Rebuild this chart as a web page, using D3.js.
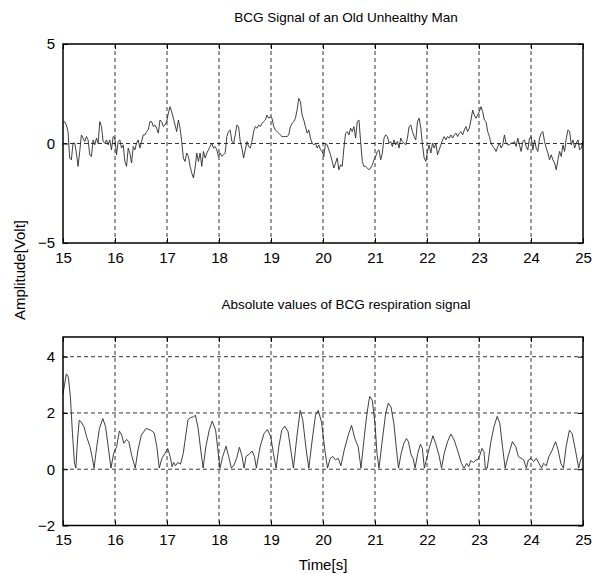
<!DOCTYPE html>
<html>
<head>
<meta charset="utf-8">
<script src="https://cdn.jsdelivr.net/npm/d3@7"></script>
<style>
  body { margin: 0; background: #fff; }
  svg { font-family: "Liberation Sans", Arial, sans-serif; }
</style>
</head>
<body>
<svg width="592" height="574"></svg>
<script>
// raw BCG signal, 15 s .. 25 s, evenly sampled
var bcgValues = [
  1.02, 1.1, 0.93, 0.6, -0.73, -0.82, 0.02, 0.02, -0.48, -1.15, -0.4, 0.43, 0.27, 0.1, 0.35, 0.18,
  -0.57, -0.65, 0.18, -0.07, 0.27, 0.02, 1.1, 0.85, 0.1, 0.02, 0.18, -0.07, 0.18, -0.32, 0.35, 0.27,
  -0.57, 0.1, 0.18, -0.23, -0.07, -0.9, -1.15, -0.23, -0.48, -0.98, -0.15, -0.32, 0.02, 0.18, -0.23, 0.1,
  0.43, 0.43, 0.6, 0.68, 1.1, 1.1, 0.85, 0.93, 0.77, 0.52, 1.18, 1.1, 0.85, 0.93, 1.1, 1.52,
  1.85, 1.6, 1.27, 0.93, 0.6, 1.18, 0.77, 0.1, -0.73, -0.9, -0.48, -0.65, -1.15, -1.48, -1.73, -1.23,
  -0.48, -0.9, -0.48, -1.15, -0.4, -0.73, -0.48, -0.32, -0.15, 0.02, -0.23, -0.15, -0.32, -0.65, -0.48, -0.65,
  -0.57, -0.48, 0.35, 0.6, 0.68, 0.1, 0.02, 0.43, 0.93, 0.85, 0.1, -0.23, -0.73, -0.32, 0.1, -0.15,
  -0.23, 0.1, 0.6, 0.85, 0.77, 0.93, 0.85, 1.02, 1.1, 1.18, 1.43, 1.27, 1.35, 1.27, 0.85, 0.68,
  0.6, 0.52, 0.43, 0.35, 0.35, 0.35, 0.35, 0.43, 0.85, 1.02, 1.1, 1.27, 1.68, 2.27, 2.1, 1.43,
  1.18, 0.85, 0.52, 0.68, 0.27, 0.02, -0.07, 0.02, -0.23, -0.07, -0.32, -0.4,
  -0.65, 0.02, -0.07, -0.32, -0.57, -0.9, -1.23, -0.98, -0.73, -1.32, -1.07, -1.15, -0.23, 0.52, 0.6, 0.43,
  0.77, 0.6, 0.85, 0.27, 1.1, 1.18, 0.1, -0.9, -1.15, -1.15, -1.23, -1.32, -1.23, -1.07, -0.82, -0.65,
  -0.4, -0.32, -0.82, -0.48, 0.27, 0.43, 0.35, 0.02, 0.1, -0.15, 0.18, -0.07, 0.1, -0.23, 0.27, 0.1,
  0.02, -0.07, 0.27, 0.85, 0.93, 0.6, 0.35, 0.18, 1.1, 1.27, 0.77, -0.07, -0.73, -0.9, -0.4, -0.07,
  -0.48, 0.02, -0.23, 0.02, -0.57, -0.32, -0.07, 0.18, 0.35, 0.18, 0.35, 0.27, 0.43, 0.27, 0.43, 0.52,
  0.35, 0.52, 0.6, 0.43, 0.68, 0.85, 0.6, 0.77, 1.18, 1.68, 1.43, 1.27, 1.43, 1.6, 1.85, 1.6,
  1.18, 1.1, 0.6, 0.35, 0.02, -0.15, -0.23, -0.4, -0.15, 0.02, -0.23, -0.07, 0.43, 0.02, -0.07, -0.07,
  0.02, 0.02, 0.1, -0.15, 0.27, -0.07, -0.4, 0.1, 0.18, -0.15, -0.32, 0.27, 0.35, -0.32, 0.18, -0.23,
  -0.4, 0.27, 0.52, 0.6, 0.1, -0.23, -0.48, -0.82, -0.57, -0.82, -0.98, -1.32, -0.82, -0.4, -0.65, -0.07,
  -0.4, 0.27, 0.68, 0.6, -0.07, 0.18, -0.23, 0.02, 0.18, -0.32, -0.23, 0.1
];

// absolute respiration signal: times [s] and values [V]
var respTimes = [
  15.0, 15.065, 15.104, 15.143, 15.182, 15.221, 15.247, 15.279, 15.312, 15.351, 15.403, 15.455, 15.519, 15.565,
  15.597, 15.649, 15.701, 15.766, 15.818, 15.870, 15.922, 15.974, 16.032, 16.084, 16.130, 16.169, 16.221, 16.266,
  16.318, 16.390, 16.442, 16.506, 16.597, 16.688, 16.753, 16.805, 16.851, 16.903, 16.961, 17.013, 17.065, 17.097,
  17.130, 17.162, 17.208, 17.260, 17.312, 17.357, 17.403, 17.455, 17.506, 17.545, 17.597, 17.649, 17.695, 17.747,
  17.812, 17.870, 17.935, 18.019, 18.071, 18.135, 18.186, 18.238, 18.289, 18.340, 18.392, 18.437, 18.482, 18.520,
  18.584, 18.636, 18.681, 18.719, 18.790, 18.867, 18.931, 18.996, 19.047, 19.098, 19.150, 19.207, 19.265, 19.329,
  19.381, 19.432, 19.497, 19.561, 19.612, 19.677, 19.728, 19.792, 19.856, 19.908, 19.972, 20.036, 20.087, 20.139,
  20.190, 20.241, 20.293, 20.344, 20.408, 20.485, 20.549, 20.613, 20.677, 20.730, 20.794, 20.845, 20.897, 20.948,
  21.0, 21.038, 21.077, 21.141, 21.205, 21.256, 21.308, 21.363, 21.414, 21.452, 21.503, 21.554, 21.605, 21.643,
  21.694, 21.732, 21.771, 21.822, 21.873, 21.911, 21.949, 21.987, 22.051, 22.115, 22.166, 22.229, 22.280, 22.331,
  22.395, 22.459, 22.522, 22.586, 22.662, 22.713, 22.764, 22.803, 22.841, 22.892, 22.943, 22.981, 23.019, 23.057,
  23.096, 23.121, 23.159, 23.223, 23.287, 23.350, 23.401, 23.452, 23.503, 23.567, 23.643, 23.707, 23.758, 23.809,
  23.860, 23.911, 23.949, 24.0, 24.051, 24.102, 24.153, 24.204, 24.242, 24.293, 24.344, 24.408, 24.471, 24.522,
  24.573, 24.624, 24.675, 24.739, 24.790, 24.854, 24.917, 24.955, 25.0
];
var respValues = [
  2.68, 3.39, 3.27, 2.56, 1.27, 0.21, 0.04, 1.04, 1.74, 1.68, 1.51, 1.15, 0.8, 0.39,
  0.04, 0.8, 1.45, 1.8, 1.51, 0.8, 0.04, 0.56, 0.8, 1.36, 1.21, 0.92, 1.06, 0.98,
  0.51, 0.04, 0.68, 1.21, 1.45, 1.39, 1.29, 0.8, 0.04, 0.39, 0.56, 0.74, 0.42, 0.09,
  0.24, 0.12, 0.24, 0.18, 0.56, 1.15, 1.76, 1.84, 1.86, 1.92, 1.48, 0.68, 0.04, 0.8,
  1.39, 1.71, 1.39, 0.04, 0.45, 0.82, 0.45, 0.04, 0.15, 0.39, 0.78, 0.51, 0.04, 0.45,
  0.54, 0.65, 0.45, 0.04, 0.8, 1.27, 1.41, 1.15, 0.56, 0.04, 0.8, 1.39, 1.53, 1.33,
  0.68, 0.04, 1.15, 2.09, 1.74, 0.68, 0.04, 1.04, 1.92, 2.09, 1.68, 0.68, 0.04, 0.39,
  0.45, 0.33, 0.39, 0.12, 0.68, 1.21, 1.56, 1.09, 0.8, 0.04, 1.15, 1.98, 2.59, 2.45,
  1.62, 0.56, 0.04, 1.04, 1.98, 2.35, 2.21, 1.62, 0.68, 0.04, 0.56, 0.92, 1.09, 0.98,
  0.51, 0.39, 0.04, 0.56, 0.89, 0.74, 0.04, 0.33, 0.8, 1.19, 0.92, 0.51, 0.04, 0.56,
  0.98, 1.25, 1.04, 0.68, 0.21, 0.04, 0.21, 0.09, 0.31, 0.24, 0.33, 0.35, 0.51, 0.74,
  0.62, 0.04, 0.04, 0.92, 1.51, 1.88, 1.62, 0.8, 0.04, 0.51, 0.98, 0.8, 0.45, 0.39,
  0.33, 0.04, 0.33, 0.39, 0.27, 0.39, 0.21, 0.04, 0.21, 0.12, 0.45, 0.68, 0.98, 0.68,
  0.21, 0.04, 0.8, 1.39, 1.27, 0.68, 0.04, 0.33, 0.51
];

var xTicks = [15, 16, 17, 18, 19, 20, 21, 22, 23, 24, 25];
var topYTicks = [-5, 0, 5];
var botYTicks = [-2, 0, 2, 4];

var svg = d3.select("svg");
var left = 63, right = 583;
var titleX = 346;

var x = d3.scaleLinear().domain([15, 25]).range([left, right]);
var yTop = d3.scaleLinear().domain([-5, 5]).range([243, 44]);
var yBot = d3.scaleLinear().domain([-2, 4.7]).range([525.5, 337]);

var t0 = 15, span = 10;
var bcg = bcgValues.map(function(v, i) { return [t0 + i * span / (bcgValues.length - 1), v]; });
var resp = respTimes.map(function(t, i) { return [t, respValues[i]]; });

function panel(y, yTicks, gridY, data, title, titleGap) {
  var g = svg.append("g");
  var y0 = y.range()[1], y1 = y.range()[0];

  // grid
  g.append("g").selectAll("line").data(xTicks.slice(1, -1)).enter().append("line")
    .attr("x1", function(d) { return x(d); }).attr("x2", function(d) { return x(d); })
    .attr("y1", y0).attr("y2", y1)
    .attr("stroke", "#000").attr("stroke-width", 0.8).attr("stroke-dasharray", "4,3");
  g.append("g").selectAll("line").data(gridY).enter().append("line")
    .attr("y1", function(d) { return y(d); }).attr("y2", function(d) { return y(d); })
    .attr("x1", left).attr("x2", right)
    .attr("stroke", "#000").attr("stroke-width", 0.8).attr("stroke-dasharray", "4,3");

  // signal
  var line = d3.line().x(function(d) { return x(d[0]); }).y(function(d) { return y(d[1]); });
  g.append("path").datum(data).attr("d", line)
    .attr("fill", "none").attr("stroke", "#2a2a2a").attr("stroke-width", 0.9);

  // axes, ticks pointing inward
  var ax = [
    g.append("g").attr("transform", "translate(0," + y1 + ")")
      .call(d3.axisBottom(x).tickValues(xTicks).tickSize(-5).tickPadding(9)),
    g.append("g").attr("transform", "translate(0," + y0 + ")")
      .call(d3.axisTop(x).tickValues(xTicks).tickSize(-5).tickFormat("")),
    g.append("g").attr("transform", "translate(" + left + ",0)")
      .call(d3.axisLeft(y).tickValues(yTicks).tickSize(-5).tickPadding(8).tickFormat(d3.format("d"))),
    g.append("g").attr("transform", "translate(" + right + ",0)")
      .call(d3.axisRight(y).tickValues(yTicks).tickSize(-5).tickFormat(""))
  ];
  ax.forEach(function(a) {
    a.select(".domain").remove();
    a.selectAll(".tick line").attr("stroke", "#000");
    a.selectAll("text").attr("font-size", 15).attr("fill", "#000")
      .attr("font-family", null);
  });

  g.append("rect").attr("x", left).attr("y", y0)
    .attr("width", right - left).attr("height", y1 - y0)
    .attr("fill", "none").attr("stroke", "#000").attr("stroke-width", 1.5);

  svg.append("text").attr("x", titleX).attr("y", y0 - titleGap)
    .attr("text-anchor", "middle").attr("font-size", 13.5).text(title);
}

panel(yTop, topYTicks, [0], bcg, "BCG Signal of an Old Unhealthy Man", 22);
panel(yBot, botYTicks, [0, 2, 4], resp, "Absolute values of BCG respiration signal", 28);

svg.append("text").attr("x", (left + right) / 2).attr("y", 570)
  .attr("text-anchor", "middle").attr("font-size", 15).text("Time[s]");
svg.append("text").attr("transform", "translate(25,270) rotate(-90)")
  .attr("text-anchor", "middle").attr("font-size", 15).text("Amplitude[Volt]");
</script>
</body>
</html>
